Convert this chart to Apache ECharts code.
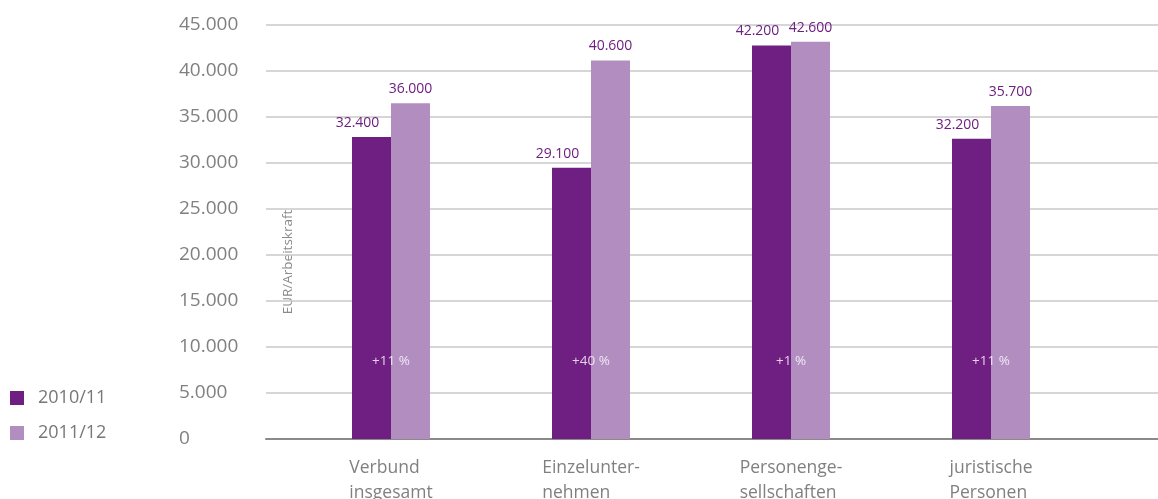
<!DOCTYPE html>
<html>
<head>
<meta charset="utf-8">
<script src="https://cdn.jsdelivr.net/npm/echarts@6/dist/echarts.min.js"></script>
<style>
  html, body { margin: 0; padding: 0; background: #fff; }
  #chart { width: 1158px; height: 499px; }
</style>
</head>
<body>
<div id="chart"></div>
<script>
// Einkommen je Arbeitskraft nach Rechtsform
const categories = ['Verbund\ninsgesamt', 'Einzelunter-\nnehmen', 'Personenge-\nsellschaften', 'juristische\nPersonen'];
const seriesNames = ['2010/11', '2011/12'];
const values2010 = [32400, 29100, 42200, 32200];
const values2011 = [36000, 40600, 42600, 35700];
const changeLabels = ['+11 %', '+40 %', '+1 %', '+11 %'];
const yTicks = [0, 5000, 10000, 15000, 20000, 25000, 30000, 35000, 40000, 45000];
const changeLabelLevel = 8400;

const DARK = '#6e1f81';
const LIGHT = '#b18dc0';
const GREY = '#808080';
const FONT = 'Open Sans';

function fmt(v) {
  return String(Math.round(v)).replace(/\B(?=(\d{3})+(?!\d))/g, '.');
}

const chart = echarts.init(document.getElementById('chart'), null, { renderer: 'canvas' });

chart.setOption({
  animation: false,
  backgroundColor: '#fff',
  textStyle: { fontFamily: FONT },
  legend: {
    orient: 'vertical',
    left: 10,
    top: 389,
    padding: 0,
    itemWidth: 14,
    itemHeight: 14,
    itemGap: 17,
    icon: 'rect',
    data: seriesNames,
    textStyle: { fontFamily: FONT, fontSize: 18, color: '#777', padding: [0, 0, 0, 9] }
  },
  grid: [
    // scale grid: horizontal lines and tick labels
    { left: 266, right: 0, top: 25, bottom: 60, containLabel: false, outerBoundsMode: 'none' },
    // bar grid
    { left: 291, right: 67, top: 25, bottom: 60, containLabel: false, outerBoundsMode: 'none' }
  ],
  xAxis: [
    {
      gridIndex: 0, type: 'value', min: 0, max: 1,
      axisLine: { show: true, onZero: false, lineStyle: { color: '#8a8a8a', width: 2 } },
      axisTick: { show: false }, axisLabel: { show: false }, splitLine: { show: false }
    },
    {
      gridIndex: 1, type: 'category', data: categories,
      axisLine: { show: false }, axisTick: { show: false },
      axisLabel: {
        margin: 17,
        align: 'center',
        color: GREY,
        fontFamily: FONT,
        fontSize: 17.5,
        lineHeight: 25,
        formatter: function (v) {
          return v.split('\n').map(function (s) { return '{l|' + s + '}'; }).join('\n');
        },
        rich: { l: { align: 'left', fontFamily: FONT, fontSize: 17.5, lineHeight: 25, color: GREY } }
      }
    }
  ],
  yAxis: [
    {
      gridIndex: 0, type: 'value', min: yTicks[0], max: yTicks[yTicks.length - 1], interval: 5000,
      axisLine: { show: false }, axisTick: { show: false },
      splitLine: { show: true, lineStyle: { color: '#c9c9c9', width: 1.5 } },
      axisLabel: {
        margin: 87, align: 'left', color: GREY, fontFamily: FONT, fontSize: 19,
        padding: [0, 0, 9, 0],
        formatter: function (v) { return fmt(v); }
      }
    },
    {
      gridIndex: 1, type: 'value', min: 0, max: 44400,
      show: false, splitLine: { show: false }
    }
  ],
  graphic: [
    {
      type: 'text',
      x: 281, y: 262,
      rotation: Math.PI / 2,
      style: {
        text: 'EUR/Arbeitskraft',
        fill: '#8a8a8a',
        font: '13.5px "' + FONT + '"',
        align: 'center',
        verticalAlign: 'top'
      }
    }
  ],
  series: [
    {
      name: seriesNames[0], type: 'bar', xAxisIndex: 1, yAxisIndex: 1,
      data: values2010, barWidth: 39, barGap: '0%',
      itemStyle: { color: DARK },
      label: {
        show: true, position: 'top', distance: 7, offset: [-14, 0],
        color: DARK, fontFamily: FONT, fontSize: 14,
        formatter: function (p) { return fmt(p.value); }
      }
    },
    {
      name: seriesNames[1], type: 'bar', xAxisIndex: 1, yAxisIndex: 1,
      data: values2011, barWidth: 39, barGap: '0%',
      itemStyle: { color: LIGHT },
      label: {
        show: true, position: 'top', distance: 7,
        color: DARK, fontFamily: FONT, fontSize: 14,
        formatter: function (p) { return fmt(p.value); }
      }
    },
    {
      name: 'Veränderung', type: 'scatter', xAxisIndex: 1, yAxisIndex: 1,
      symbolSize: 0, silent: true,
      data: changeLabels.map(function (_, i) { return [i, changeLabelLevel]; }),
      label: {
        show: true, position: 'inside', color: '#fff', fontFamily: FONT, fontSize: 13.5,
        formatter: function (p) { return changeLabels[p.dataIndex]; }
      }
    }
  ]
});
</script>
</body>
</html>
